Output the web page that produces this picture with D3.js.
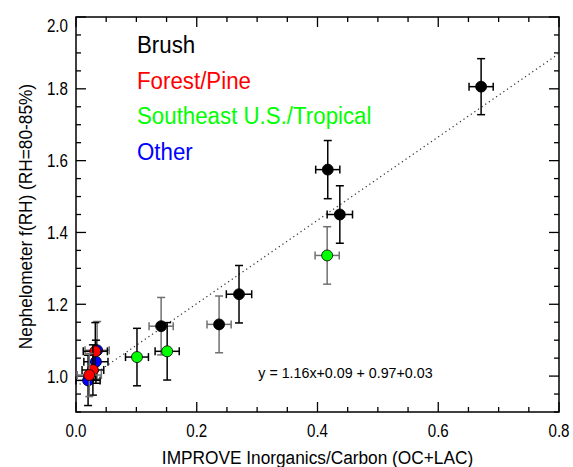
<!DOCTYPE html>
<html>
<head>
    <meta charset="utf-8">
    <title>Nephelometer f(RH) vs IMPROVE Inorganics/Carbon</title>
    <script type="text/javascript" src="https://cdn.jsdelivr.net/npm/d3@7"></script>
    <style>
        body { margin: 0; background: #fff; }
        text { font-family: "Liberation Sans", Arial, sans-serif; }
    </style>
</head>
<body>
<svg id="svg"></svg>

<script type="text/javascript">

    // legend categories and fill colours
    var categories = ["Brush", "Forest/Pine", "Southeast U.S./Tropical", "Other"];
    var categoryColors = ["#000000", "#ff0000", "#00ff00", "#0000ff"];

    // points, in drawing order (category index, x, y, x error, y error)
    var pointCat  = [0, 0, 0, 0, 0, 0, 2, 2, 2, 3, 3, 3, 1, 1, 1];
    var pointX    = [0.671, 0.417, 0.437, 0.270, 0.237, 0.141, 0.416, 0.101, 0.151, 0.035, 0.033, 0.020, 0.032, 0.028, 0.022];
    var pointY    = [1.806, 1.575, 1.450, 1.228, 1.144, 1.139, 1.336, 1.053, 1.069, 1.072, 1.040, 0.988, 1.069, 1.017, 1.003];
    var pointXErr = [0.020, 0.020, 0.021, 0.021, 0.020, 0.020, 0.020, 0.019, 0.020, 0.020, 0.020, 0.020, 0.020, 0.018, 0.020];
    var pointYErr = [0.078, 0.081, 0.080, 0.080, 0.079, 0.080, 0.080, 0.080, 0.080, 0.080, 0.060, 0.070, 0.080, 0.070, 0.060];
    // points whose error bars are drawn in grey
    var greyBars  = [4, 5, 6, 9, 14];

    // fitted line
    var fitSlope = 1.16, fitIntercept = 0.97;
    var fitText = "y = 1.16x+0.09 + 0.97+0.03";

    // axes
    var xTicks = [0.0, 0.2, 0.4, 0.6, 0.8];
    var yTicks = [1.0, 1.2, 1.4, 1.6, 1.8, 2.0];
    var xLabel = "IMPROVE Inorganics/Carbon (OC+LAC)";
    var yLabel = "Nephelometer f(RH) (RH=80-85%)";

    var width = 573, height = 467,
        margins = {top: 17, left: 76, right: 14, bottom: 55},
        plotW = width - margins.left - margins.right,
        plotH = height - margins.top - margins.bottom;

    var svg = d3.select("#svg")
        .attr("width", width)
        .attr("height", height);

    var scaleX = d3.scaleLinear().domain([0, 0.8]).range([0, plotW]);
    var scaleY = d3.scaleLinear().domain([0.9, 2.0]).range([plotH, 0]);

    var g = svg.append("g")
        .attr("transform", "translate(" + margins.left + "," + margins.top + ")");

    svg.append("clipPath").attr("id", "plotClip")
        .append("rect").attr("width", plotW).attr("height", plotH);

    // narrow text: the original uses a condensed face, so squeeze horizontally
    function narrowText(parent, x, y, sx, size, anchor, str, rot) {
        return parent.append("text")
            .attr("transform", "translate(" + x + "," + y + ")" +
                  (rot ? "rotate(" + rot + ")" : "") + "scale(" + sx + ",1)")
            .attr("text-anchor", anchor)
            .style("font-size", size + "px")
            .text(str);
    }

    // minor ticks every 0.05, major at tick labels
    var xMinor = d3.range(0, 0.8001, 0.05);
    var yMinor = d3.range(0.9, 2.0001, 0.05);
    function isMajor(v, list) {
        return list.some(function(t) { return Math.abs(t - v) < 1e-6; });
    }

    // bottom & top ticks
    g.selectAll(".xt").data(xMinor).enter().append("line")
        .attr("x1", function(d) { return scaleX(d); })
        .attr("x2", function(d) { return scaleX(d); })
        .attr("y1", plotH)
        .attr("y2", function(d) { return plotH - (isMajor(d, xTicks) ? 10 : 5); })
        .attr("stroke", "#000").attr("stroke-width", 1.3);
    g.selectAll(".xtt").data(xMinor).enter().append("line")
        .attr("x1", function(d) { return scaleX(d); })
        .attr("x2", function(d) { return scaleX(d); })
        .attr("y1", 0)
        .attr("y2", function(d) { return isMajor(d, xTicks) ? 10 : 5; })
        .attr("stroke", "#000").attr("stroke-width", 1.3);

    // left & right ticks
    g.selectAll(".yt").data(yMinor).enter().append("line")
        .attr("y1", function(d) { return scaleY(d); })
        .attr("y2", function(d) { return scaleY(d); })
        .attr("x1", 0)
        .attr("x2", function(d) { return isMajor(d, yTicks) ? 10 : 5; })
        .attr("stroke", "#000").attr("stroke-width", 1.3);
    g.selectAll(".ytr").data(yMinor).enter().append("line")
        .attr("y1", function(d) { return scaleY(d); })
        .attr("y2", function(d) { return scaleY(d); })
        .attr("x1", plotW)
        .attr("x2", function(d) { return plotW - (isMajor(d, yTicks) ? 10 : 5); })
        .attr("stroke", "#000").attr("stroke-width", 1.3);

    // frame
    g.append("rect")
        .attr("width", plotW).attr("height", plotH)
        .attr("fill", "none").attr("stroke", "#000").attr("stroke-width", 1.5);

    // tick labels
    xTicks.forEach(function(d) {
        narrowText(g, scaleX(d), plotH + 25, 0.82, 18.5, "middle", d3.format(".1f")(d));
    });
    yTicks.forEach(function(d) {
        narrowText(g, -8, Math.max(scaleY(d), 8) + 6.5, 0.82, 18.5, "end", d3.format(".1f")(d));
    });

    // axis titles
    narrowText(svg, margins.left + plotW / 2, height - 3, 0.96, 18, "middle", xLabel);
    narrowText(svg, 32, margins.top + plotH / 2 + 2, 0.96, 18, "middle", yLabel, -90);

    // fitted line
    g.append("line")
        .attr("clip-path", "url(#plotClip)")
        .attr("x1", scaleX(0)).attr("y1", scaleY(fitIntercept))
        .attr("x2", scaleX(0.8)).attr("y2", scaleY(fitIntercept + fitSlope * 0.8))
        .attr("stroke", "#333").attr("stroke-width", 1.2)
        .attr("stroke-dasharray", "1.2,3.2");

    narrowText(g, scaleX(0.302), scaleY(0.995), 0.92, 15.5, "start", fitText);

    // points with error bars
    var idx = d3.range(pointX.length);
    var capHalf = 4;
    var pts = g.selectAll(".pt").data(idx).enter().append("g").attr("class", "pt");

    pts.each(function(i) {
        var p = d3.select(this);
        var col = greyBars.indexOf(i) >= 0 ? "#707070" : "#000";
        var cx = scaleX(pointX[i]), cy = scaleY(pointY[i]);
        var x0 = scaleX(pointX[i] - pointXErr[i]), x1 = scaleX(pointX[i] + pointXErr[i]);
        var y0 = scaleY(pointY[i] - pointYErr[i]), y1 = scaleY(pointY[i] + pointYErr[i]);
        var segs = [
            [cx, y0, cx, y1], [cx - capHalf, y0, cx + capHalf, y0], [cx - capHalf, y1, cx + capHalf, y1],
            [x0, cy, x1, cy], [x0, cy - capHalf, x0, cy + capHalf], [x1, cy - capHalf, x1, cy + capHalf]
        ];
        p.selectAll("line").data(segs).enter().append("line")
            .attr("x1", function(s) { return s[0]; }).attr("y1", function(s) { return s[1]; })
            .attr("x2", function(s) { return s[2]; }).attr("y2", function(s) { return s[3]; })
            .attr("stroke", col).attr("stroke-width", 1.5);
        p.append("circle")
            .attr("cx", cx).attr("cy", cy).attr("r", 5.5)
            .attr("fill", categoryColors[pointCat[i]])
            .attr("stroke", "#000").attr("stroke-width", 0.8);
    });

    // legend
    categories.forEach(function(d, i) {
        narrowText(svg, 137, 53 + i * 35.6, 0.91, 24.5, "start", d)
            .attr("fill", categoryColors[i]);
    });

</script>
</body>
</html>
